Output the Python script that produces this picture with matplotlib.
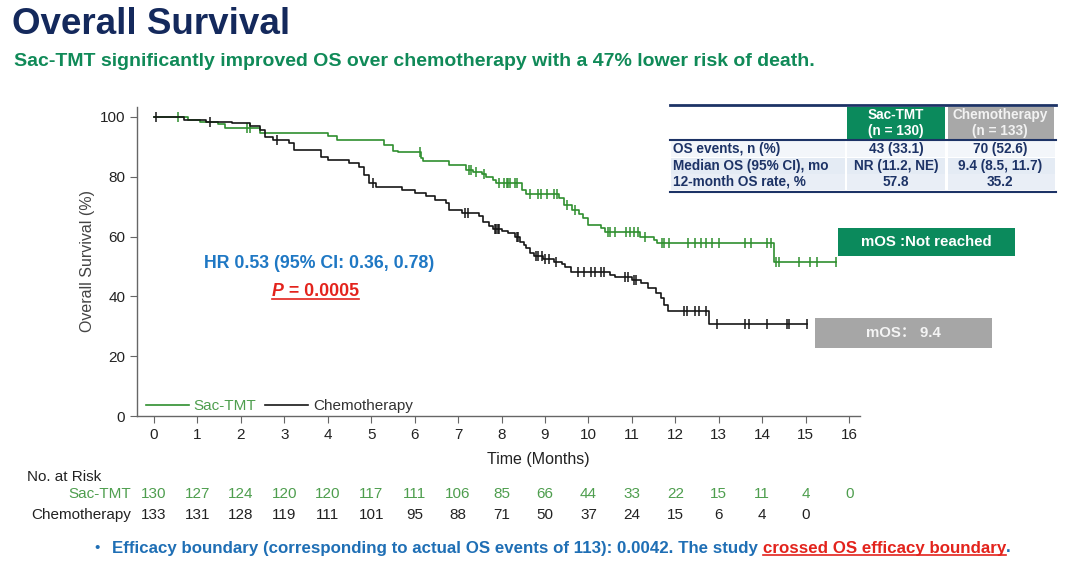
import numpy as np
import matplotlib.pyplot as plt
from matplotlib.patches import Rectangle
from matplotlib.lines import Line2D
import matplotlib.transforms as mtransforms

# Kaplan-Meier steps: (month, survival % after the drop)
sac_t = [0, 0.79, 1.05, 1.48, 1.63, 2.45, 4.0, 4.22, 5.3, 5.5, 5.62, 6.15, 6.2, 6.78,
         7.18, 7.35, 7.55, 7.65, 7.8, 7.88, 8.48, 8.56, 9.32, 9.44, 9.62, 9.78, 9.87,
         10.0, 10.3, 10.38, 11.18, 11.5, 11.58, 14.28]
sac_s = [100, 99.0, 98.4, 97.5, 96.4, 94.5, 93.7, 92.3, 90.6, 88.7, 88.1, 86.2, 85.1, 83.9,
         82.3, 81.5, 80.8, 80.0, 78.9, 77.8, 75.6, 74.2, 72.8, 70.6, 68.9, 67.5, 66.1,
         63.9, 62.7, 61.6, 60.0, 58.9, 57.8, 51.6]
sac_end = 15.7
sac_cens = [0.55, 2.15, 2.2, 6.12, 7.25, 7.3, 7.42, 7.6, 7.95, 8.05, 8.12, 8.15, 8.2, 8.3,
            8.35, 8.65, 8.85, 8.9, 9.05, 9.2, 9.28, 9.5, 9.7, 10.45, 10.5, 10.6, 10.87,
            10.95, 11.05, 11.13, 11.3, 11.7, 11.75, 11.85, 12.3, 12.45, 12.6, 12.7, 12.85,
            13.0, 13.6, 13.75, 14.1, 14.2, 14.32, 14.38, 14.85, 15.1, 15.27, 15.7]

chemo_t = [0, 0.7, 1.2, 1.8, 2.2, 2.45, 2.55, 2.75, 3.1, 3.22, 3.85, 4.0, 4.5, 4.72, 4.83,
           4.95, 5.1, 5.7, 6.0, 6.25, 6.48, 6.72, 6.8, 7.1, 7.48, 7.58, 7.7, 7.8, 8.0, 8.15,
           8.3, 8.43, 8.52, 8.56, 8.65, 8.75, 8.95, 9.2, 9.38, 9.46, 9.6, 10.5, 10.62, 11.0,
           11.2, 11.38, 11.55, 11.67, 11.75, 11.82, 12.78]
chemo_s = [100, 99.0, 98.4, 97.9, 97.1, 95.7, 93.4, 92.3, 91.2, 89.0, 86.7, 85.6, 84.5, 83.4,
           80.6, 77.8, 76.7, 75.6, 74.5, 73.4, 72.2, 71.1, 68.9, 67.8, 66.7, 64.7, 63.5, 62.5,
           61.8, 61.1, 60.0, 58.3, 57.2, 56.1, 54.4, 53.4, 52.6, 51.6, 50.8, 49.9, 48.3, 47.2,
           46.4, 45.5, 44.4, 42.7, 41.0, 39.4, 37.1, 35.2, 30.8]
chemo_end = 15.03
chemo_cens = [0.05, 1.28, 2.83, 5.05, 7.15, 7.22, 7.85, 7.88, 7.92, 7.95, 8.35, 8.38, 8.8,
              8.85, 8.92, 9.0, 9.1, 9.25, 9.75, 9.9, 10.05, 10.15, 10.3, 10.35, 10.85, 10.9,
              11.05, 11.1, 12.2, 12.27, 12.45, 12.55, 12.7, 12.97, 13.6, 13.7, 14.1, 14.57,
              14.62, 15.03]

risk_months = list(range(17))
sac_risk = [130, 127, 124, 120, 120, 117, 111, 106, 85, 66, 44, 33, 22, 15, 11, 4, 0]
chemo_risk = [133, 131, 128, 119, 111, 101, 95, 88, 71, 50, 37, 24, 15, 6, 4, 0]

table_rows = ["OS events, n (%)", "Median OS (95% CI), mo", "12-month OS rate, %"]
table_sac = ["43 (33.1)", "NR (11.2, NE)", "57.8"]
table_chemo = ["70 (52.6)", "9.4 (8.5, 11.7)", "35.2"]

GREEN = '#2f8f2f'
LGREEN = '#4e9e4e'
NAVY = '#1d3366'
TEAL = '#0b8a5c'
RED = '#e3231c'
W, H = 1080, 563

plt.rcParams['font.family'] = ['Liberation Sans', 'DejaVu Sans']
fig = plt.figure(figsize=(W / 100, H / 100), dpi=100)


def fx(px):
    return px / W


def fy(py):
    return 1 - py / H


ax = fig.add_axes([fx(137), fy(416), fx(860) - fx(137), fy(107) - fy(416)])
ax.set_xlim(-0.39, 16.25)
ax.set_ylim(0, 103.3)


def km_at(t, times, surv):
    i = np.searchsorted(times, t, side='right') - 1
    return np.asarray(surv)[i]


for times, surv, end, cens, col, lab in [
        (sac_t, sac_s, sac_end, sac_cens, GREEN, 'Sac-TMT'),
        (chemo_t, chemo_s, chemo_end, chemo_cens, '#161616', 'Chemotherapy')]:
    tt = list(times) + [end]
    ss = list(surv) + [surv[-1]]
    ax.step(tt, ss, where='post', color=col, lw=1.2, label=lab)
    ax.plot(cens, km_at(np.array(cens), times, surv), ls='none', marker='|',
            ms=7, mew=1.1, color=col)

for s in ['top', 'right']:
    ax.spines[s].set_visible(False)
for s in ['left', 'bottom']:
    ax.spines[s].set_color('#666666')
    ax.spines[s].set_linewidth(1.0)
ax.set_xticks(range(17))
ax.set_yticks(range(0, 101, 20))
ax.tick_params(direction='out', length=5, color='#666666', labelsize=11, labelcolor='#222222')
ax.set_xlabel('Time (Months)', fontsize=11.5, color='#222222')
ax.xaxis.set_label_coords(0.555, -0.115)
ax.set_ylabel('Overall Survival (%)', fontsize=11.5, color='#444444')
ax.yaxis.set_label_coords(-0.058, 0.5)

leg = ax.legend(loc='lower left', bbox_to_anchor=(0.0, -0.02), ncol=2, frameon=False,
                handlelength=2.8, handletextpad=0.3, columnspacing=0.6, fontsize=11,
                borderaxespad=0.2)
leg.get_texts()[0].set_color(LGREEN)
leg.get_texts()[1].set_color('#333333')

fig.text(fx(319), fy(264), 'HR 0.53 (95% CI: 0.36, 0.78)', ha='center', va='center',
         fontsize=12.8, fontweight='bold', color='#1f78c4')
p1 = fig.text(fx(272), fy(291), 'P', ha='left', va='center', fontsize=12.8,
              fontweight='bold', fontstyle='italic', color=RED)

# titles
fig.text(fx(12), fy(24), 'Overall Survival', fontsize=26.5, fontweight='bold', color='#14295c',
         va='center', ha='left')
fig.text(fx(14), fy(62), 'Sac-TMT significantly improved OS over chemotherapy with a 47% lower risk of death.',
         fontsize=14, fontweight='bold', color='#108a58', va='center', ha='left')

# summary table
fig.add_artist(Rectangle((fx(847), fy(139)), fx(945) - fx(847), fy(107) - fy(139),
                         transform=fig.transFigure, color=TEAL, lw=0))
fig.add_artist(Rectangle((fx(948), fy(139)), fx(1054) - fx(948), fy(107) - fy(139),
                         transform=fig.transFigure, color='#a8a8a8', lw=0))
row_y = [149, 166, 182]
row_bg = ['#f3f6fa', '#e4ebf4', '#e9eef6']
for i, (lab, a, b) in enumerate(zip(table_rows, table_sac, table_chemo)):
    top, bot = row_y[i] - 8, row_y[i] + 8
    for x0, x1 in [(671, 845), (847, 945), (948, 1055)]:
        fig.add_artist(Rectangle((fx(x0), fy(bot)), fx(x1) - fx(x0), fy(top) - fy(bot),
                                 transform=fig.transFigure, color=row_bg[i], lw=0))
    fig.text(fx(673), fy(row_y[i]), lab, fontsize=9.8, fontweight='bold', color=NAVY,
             va='center', ha='left')
    fig.text(fx(896), fy(row_y[i]), a, fontsize=9.8, fontweight='bold', color=NAVY,
             va='center', ha='center')
    fig.text(fx(1000), fy(row_y[i]), b, fontsize=9.8, fontweight='bold', color=NAVY,
             va='center', ha='center')
for yy, lw in [(105, 2.0), (140, 1.5), (192, 1.5)]:
    fig.add_artist(Line2D([fx(670), fx(1056)], [fy(yy), fy(yy)], color=NAVY, lw=lw))
fig.text(fx(896), fy(123), 'Sac-TMT\n(n = 130)', fontsize=9.8, fontweight='bold', color='white',
         va='center', ha='center', linespacing=1.1)
fig.text(fx(1000), fy(123), 'Chemotherapy\n(n = 133)', fontsize=9.8, fontweight='bold',
         color='#f2f2f2', va='center', ha='center', linespacing=1.1)

# median OS boxes
fig.add_artist(Rectangle((fx(838), fy(256)), fx(1015) - fx(838), fy(228) - fy(256),
                         transform=fig.transFigure, color=TEAL, lw=0))
fig.text(fx(926), fy(242), 'mOS :Not reached', fontsize=10.8, fontweight='bold', color='white',
         va='center', ha='center')
fig.add_artist(Rectangle((fx(815), fy(348)), fx(992) - fx(815), fy(318) - fy(348),
                         transform=fig.transFigure, color='#a6a6a6', lw=0))
fig.text(fx(903), fy(333), 'mOS\uff1a 9.4', fontsize=10.8, fontweight='bold', color='#f4f4f4',
         va='center', ha='center', family=['Liberation Sans', 'Noto Sans CJK SC'])

# number at risk
blend = mtransforms.blended_transform_factory(ax.transData, fig.transFigure)
fig.text(fx(27), fy(477), 'No. at Risk', fontsize=11, color='#222222', va='center', ha='left')
fig.text(fx(131), fy(494), 'Sac-TMT', fontsize=11, color=LGREEN, va='center', ha='right')
fig.text(fx(131), fy(515), 'Chemotherapy', fontsize=11, color='#222222', va='center', ha='right')
for m, n in zip(risk_months, sac_risk):
    ax.text(m, fy(494), str(n), transform=blend, fontsize=11, color=LGREEN,
            ha='center', va='center', clip_on=False)
for m, n in zip(risk_months, chemo_risk):
    ax.text(m, fy(515), str(n), transform=blend, fontsize=11, color='#222222',
            ha='center', va='center', clip_on=False)

# footnote and P value, pieced together so the red parts can be underlined
fig.canvas.draw()
r = fig.canvas.get_renderer()

bb = p1.get_window_extent(r)
p2 = fig.text(bb.x1 / W, fy(291), ' = 0.0005', ha='left', va='center', fontsize=12.8,
              fontweight='bold', color=RED)
fig.canvas.draw()
bb2 = p2.get_window_extent(r)
fig.add_artist(Line2D([bb.x0 / W, bb2.x1 / W], [(bb2.y0 + 1) / H] * 2, color=RED, lw=1.2))

fig.text(fx(94), fy(548), '\u2022', fontsize=11, color='#1f6fb5', va='center', ha='left')
f1 = fig.text(fx(112), fy(548), 'Efficacy boundary (corresponding to actual OS events of 113): 0.0042. The study ',
              fontsize=12.2, fontweight='bold', color='#1f6fb5', va='center', ha='left')
fig.canvas.draw()
bb = f1.get_window_extent(r)
f2 = fig.text(bb.x1 / W, fy(548), 'crossed OS efficacy boundary', fontsize=12.2, fontweight='bold',
              color=RED, va='center', ha='left')
fig.canvas.draw()
bb = f2.get_window_extent(r)
fig.add_artist(Line2D([bb.x0 / W, bb.x1 / W], [(bb.y0 + 1) / H] * 2, color=RED, lw=1.2))
fig.text(bb.x1 / W, fy(548), '.', fontsize=12.2, fontweight='bold', color='#1f6fb5',
         va='center', ha='left')

fig.savefig('out.png', dpi=100)
